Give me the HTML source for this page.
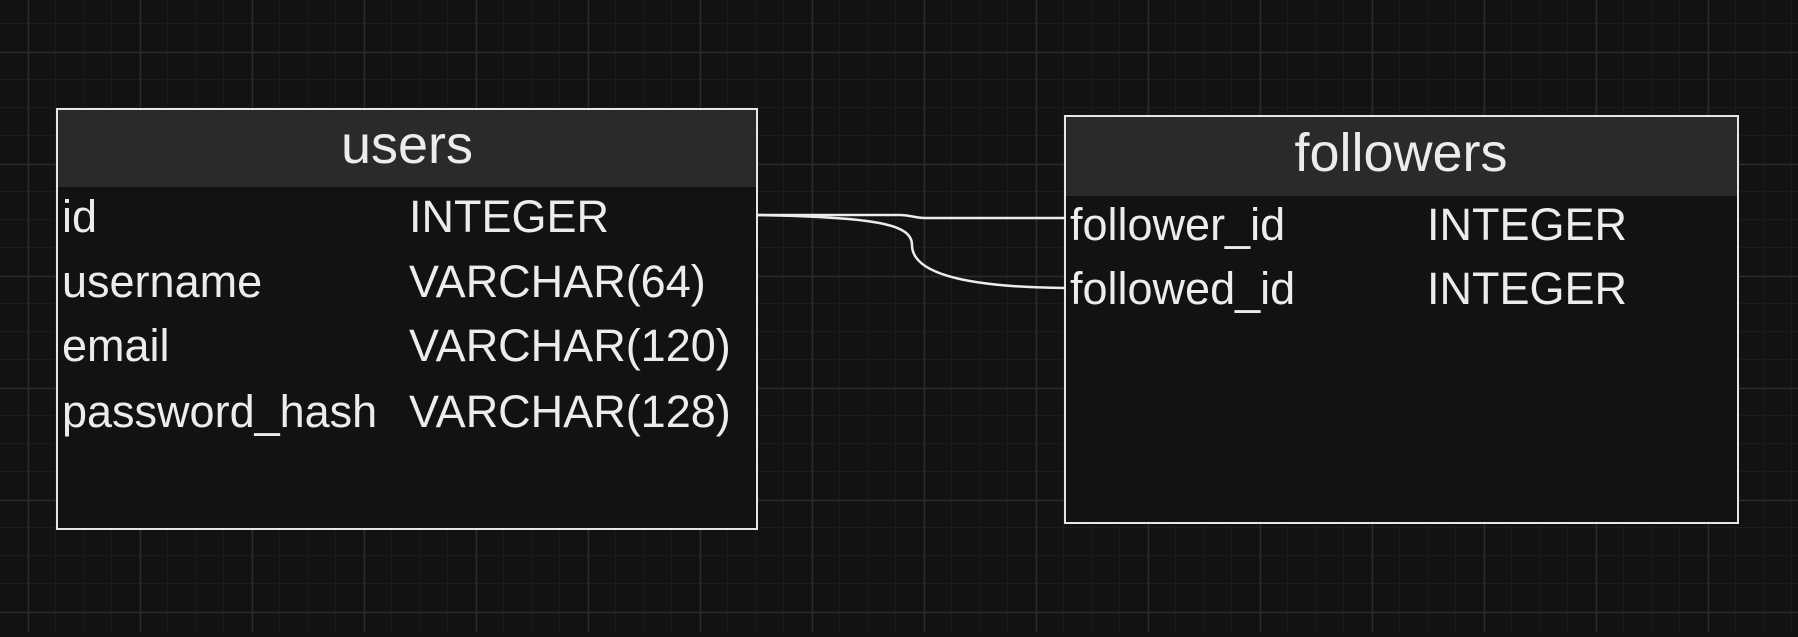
<!DOCTYPE html>
<html><head><style>
html,body{margin:0;padding:0;background:#121212;}
body{width:1798px;height:632px;overflow:hidden;}
text{font-family:"Liberation Sans",Arial,sans-serif;fill:#ececec;}
</style></head><body>
<svg width="1798" height="632" xmlns="http://www.w3.org/2000/svg">
<defs>
<pattern id="minor" width="28" height="28" patternUnits="userSpaceOnUse" x="0" y="24">
<path d="M28 0V28M0 28H28" stroke="#1e1e1e" stroke-width="1.5" fill="none"/>
</pattern>
<pattern id="major" width="112" height="112" patternUnits="userSpaceOnUse" x="28" y="52">
<path d="M0.5 0V112M0 0.5H112" stroke="#2b2b2b" stroke-width="1.5" fill="none"/>
</pattern>
</defs>
<rect width="1798" height="632" fill="#121212"/>
<rect width="1798" height="632" fill="url(#minor)"/>
<rect width="1798" height="632" fill="url(#major)"/>

<rect x="57" y="109" width="700" height="420" fill="#121212" stroke="#e6e6e6" stroke-width="2"/>
<rect x="58" y="110" width="698" height="77" fill="#2a2a2a"/>
<text x="407" y="163" font-size="54" text-anchor="middle">users</text>
<g font-size="45">
<text x="62" y="232">id</text><text x="409" y="232">INTEGER</text>
<text x="62" y="297">username</text><text x="409" y="297">VARCHAR(64)</text>
<text x="62" y="361">email</text><text x="409" y="361">VARCHAR(120)</text>
<text x="62" y="427">password_hash</text><text x="409" y="427">VARCHAR(128)</text>
</g>

<rect x="1065" y="116" width="673" height="407" fill="#121212" stroke="#e6e6e6" stroke-width="2"/>
<rect x="1066" y="117" width="671" height="79" fill="#2a2a2a"/>
<text x="1401" y="171" font-size="54" text-anchor="middle">followers</text>
<g font-size="45">
<text x="1070" y="240">follower_id</text><text x="1427" y="240">INTEGER</text>
<text x="1070" y="304">followed_id</text><text x="1427" y="304">INTEGER</text>
</g>

<g stroke="#ececec" stroke-width="2.5" fill="none">
<path d="M757 215 L900 215 C910 215 915 218 925 218 L1065 218"/>
<path d="M757 215 C880 217 912 225 912 245 C912 272 960 287 1065 288"/>
</g>
</svg>
</body></html>
